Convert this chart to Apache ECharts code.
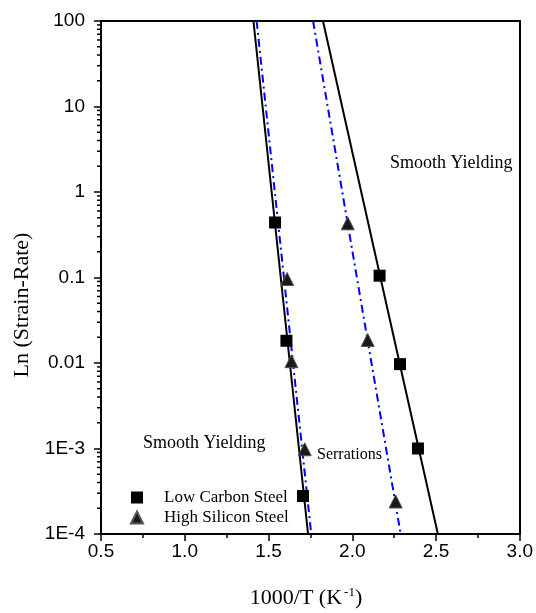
<!DOCTYPE html>
<html>
<head>
<meta charset="utf-8">
<script src="https://cdn.jsdelivr.net/npm/echarts@6/dist/echarts.min.js"></script>
<style>
html,body{margin:0;padding:0;background:#fff;}
#chart{width:536px;height:613px;}
</style>
</head>
<body>
<div id="chart"></div>
<script>
// ---- data ----
const lowCarbonX = [1.539, 1.607, 1.706, 2.163, 2.285, 2.392];
const lowCarbonY = [0.44, 0.0182, 2.78e-4, 0.105, 0.0097, 1.0e-3];
const highSiliconX = [1.973, 1.611, 1.637, 2.092, 1.716, 2.259];
const highSiliconY = [0.43, 0.096, 0.0105, 0.0186, 9.8e-4, 2.4e-4];
// fit lines (endpoints at the plot's top and bottom)
const lcFitLeft = [[1.410, 100], [1.736, 1e-4]];
const lcFitRight = [[1.825, 100], [2.511, 1e-4]];
const hsFitLeft = [[1.429, 100], [1.755, 1e-4]];
const hsFitRight = [[1.766, 100], [2.289, 1e-4]];
const yTickValues = [1e-4, 1e-3, 0.01, 0.1, 1, 10, 100];
const yTickLabels = ['1E-4', '1E-3', '0.01', '0.1', '1', '10', '100'];
const xTickLabels = ['0.5', '1.0', '1.5', '2.0', '2.5', '3.0'];

// minor log tick positions (axis decoration)
const yMinor = [];
for (let e = -4; e < 2; e++) for (let m = 2; m <= 9; m++) yMinor.push([0.5, m * Math.pow(10, e)]);

const serif = 'Liberation Serif';
const sans = 'Liberation Sans';

function pairs(xs, ys) { return xs.map((x, i) => [x, ys[i]]); }

const chart = echarts.init(document.getElementById('chart'), null, {renderer: 'canvas'});
const option = {
  animation: false,
  backgroundColor: '#fff',
  grid: {left: 101, top: 21, right: 13, bottom: 79, containLabel: false},
  xAxis: [{
    type: 'value', min: 0.5, max: 3.0, interval: 0.5, position: 'bottom',
    axisLine: {show: true, onZero: false, lineStyle: {color: '#000', width: 2}},
    axisTick: {show: true, inside: false, length: 7, lineStyle: {color: '#000', width: 1.5}},
    minorTick: {show: true, splitNumber: 2, length: 4, lineStyle: {color: '#000', width: 1.5}},
    splitLine: {show: false},
    axisLabel: {margin: 8, color: '#000', fontFamily: sans, fontSize: 19,
      formatter: v => xTickLabels[Math.round((v - 0.5) / 0.5)]}
  }, {
    type: 'value', min: 0.5, max: 3.0, interval: 0.5, position: 'top',
    axisLine: {show: true, onZero: false, lineStyle: {color: '#000', width: 2}},
    axisTick: {show: false}, axisLabel: {show: false}, splitLine: {show: false}
  }],
  yAxis: [{
    type: 'log', logBase: 10, min: 1e-4, max: 100, position: 'left',
    axisLine: {show: true, onZero: false, lineStyle: {color: '#000', width: 2}},
    axisTick: {show: true, inside: false, length: 7, lineStyle: {color: '#000', width: 1.5}},
    splitLine: {show: false},
    axisLabel: {margin: 16, color: '#000', fontFamily: sans, fontSize: 19,
      formatter: v => { const i = yTickValues.findIndex(t => Math.abs(Math.log10(t) - Math.log10(v)) < 1e-6); return i >= 0 ? yTickLabels[i] : ''; }}
  }, {
    type: 'log', logBase: 10, min: 1e-4, max: 100, position: 'right',
    axisLine: {show: true, onZero: false, lineStyle: {color: '#000', width: 2}},
    axisTick: {show: false}, axisLabel: {show: false}, splitLine: {show: false}
  }],
  legend: {
    orient: 'vertical', left: 125, top: 484, itemWidth: 12, itemHeight: 12, itemGap: 3,
    selectedMode: false,
    textStyle: {fontFamily: serif, fontSize: 17, color: '#000', padding: [0, 0, 0, 16], lineHeight: 17},
    data: [{name: 'Low Carbon Steel', icon: 'rect'}, {name: 'High Silicon Steel', icon: 'triangle'}]
  },
  series: [
    {type: 'custom', coordinateSystem: 'cartesian2d', silent: true, data: yMinor, z: 1,
      renderItem: (params, api) => {
        const p = api.coord([api.value(0), api.value(1)]);
        return {type: 'line', shape: {x1: p[0] - 4, y1: p[1], x2: p[0], y2: p[1]},
          style: {stroke: '#000', lineWidth: 1.5}};
      }, clip: false},
    {type: 'line', data: lcFitLeft, symbol: 'none', lineStyle: {color: '#000', width: 2}, z: 2},
    {type: 'line', data: lcFitRight, symbol: 'none', lineStyle: {color: '#000', width: 2}, z: 2},
    {type: 'line', data: hsFitLeft, symbol: 'none', lineStyle: {color: '#0000ff', width: 2, type: [8, 4, 2, 4]}, z: 3},
    {type: 'line', data: hsFitRight, symbol: 'none', lineStyle: {color: '#0000ff', width: 2, type: [8, 4, 2, 4]}, z: 3},
    {name: 'Low Carbon Steel', type: 'scatter', symbol: 'rect', symbolSize: 12,
      itemStyle: {color: '#000', opacity: 1}, data: pairs(lowCarbonX, lowCarbonY), z: 5},
    {name: 'High Silicon Steel', type: 'scatter', symbol: 'triangle', symbolSize: 13,
      itemStyle: {color: '#1a1a1a', borderColor: '#555', borderWidth: 1, opacity: 1}, data: pairs(highSiliconX, highSiliconY), z: 5}
  ],
  graphic: [
    {type: 'text', left: 390, top: 154, style: {text: 'Smooth Yielding', font: '18px "Liberation Serif"', fill: '#000'}},
    {type: 'text', left: 143, top: 434, style: {text: 'Smooth Yielding', font: '18px "Liberation Serif"', fill: '#000'}},
    {type: 'text', left: 317, top: 447, style: {text: 'Serrations', font: '16px "Liberation Serif"', fill: '#000'}},
    {type: 'text', x: 22, y: 305, rotation: Math.PI / 2,
      style: {text: 'Ln (Strain-Rate)', font: '22px "Liberation Serif"', fill: '#000', align: 'center', verticalAlign: 'middle'}},
    {type: 'text', x: 306, y: 598,
      style: {text: '{a|1000/T (K}{s|-1}{a|)}', align: 'center', verticalAlign: 'middle',
        rich: {a: {fontFamily: serif, fontSize: 22, fill: '#000', color: '#000'},
               s: {fontFamily: serif, fontSize: 13, color: '#000', verticalAlign: 'top', padding: [0, 0, 10, 2]}}}}
  ]
};
chart.setOption(option);
</script>
</body>
</html>
